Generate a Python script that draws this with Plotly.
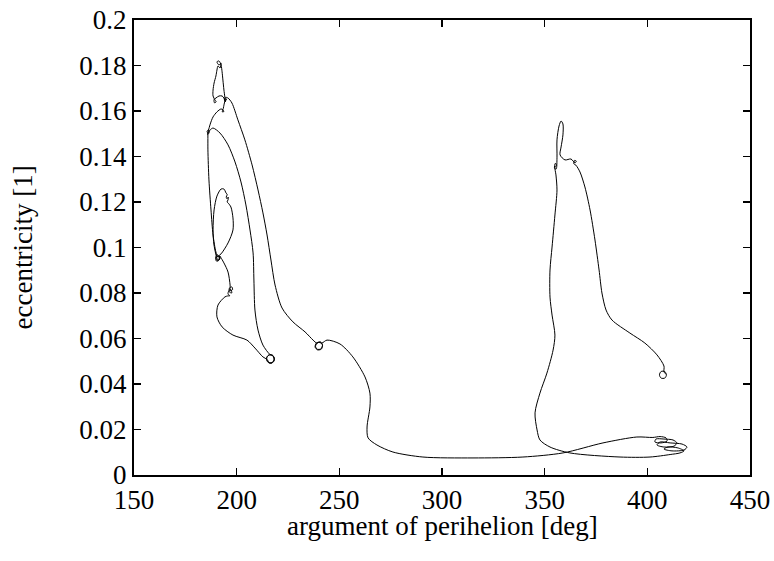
import plotly.graph_objects as go

# argument of perihelion [deg]
omega = [
    186.0, 186.0, 186.5, 187.5, 188.5, 189.9, 190.9,
    191.8, 191.5, 190.2, 189.7, 190.6, 191.6, 190.8,
    188.96, 188.5, 189.0, 190.4, 192.4, 193.8, 194.8,
    195.4, 194.9, 195.3, 195.9, 195.8, 195.3, 195.9,
    197.2, 198.2, 198.2, 195.8, 192.4,
    191.0, 190.0, 190.6, 191.8, 191.7,
    193.8, 195.8, 196.8, 196.9,
    198.0, 197.6, 196.5, 196.4, 197.6, 197.2, 196.2, 195.8, 196.7, 195.6,
    194.3, 190.9, 190.4, 192.9, 198.2, 205.0, 208.9, 212.8, 214.8,
    216.0, 217.8, 218.4, 217.4, 215.5, 214.5, 215.3, 217.2, 218.2, 217.8, 216.0, 214.7, 215.0, 216.8, 218.3, 217.6, 216.2,
    212.8, 210.4, 208.9, 208.4, 208.0, 206.5, 204.5, 202.1, 199.2, 195.8, 191.9, 188.5, 187.0, 186.0,
    185.6, 186.3, 186.6, 185.9,
    187.0, 188.5, 190.4, 192.4, 193.3,
    193.8, 193.0, 193.5,
    193.8, 194.3,
    194.8, 194.0, 194.5,
    193.8, 193.3, 192.9, 192.4, 191.4, 190.4, 191.4, 192.4, 191.9, 190.9, 190.4, 189.9, 189.0, 188.5, 188.5, 189.4,
    190.0, 189.2, 189.0,
    189.9, 191.4, 192.9, 193.8, 194.3,
    195.0, 194.6,
    195.8, 197.7, 200.6, 204.0, 207.5, 210.4, 212.8, 214.8, 216.7, 218.7, 222.1, 227.4, 233.3, 237.2,
    239.0, 240.8, 241.8, 241.2, 239.4, 238.2, 238.8, 240.6, 241.8, 241.0, 239.2, 238.4, 239.6, 241.5,
    244.0, 250.3, 256.6, 262.5, 264.9, 264.9, 263.5, 264.0, 268.3, 276.1, 290.7, 315.1, 339.4, 358.9, 378.4, 394.9, 402.7,
    406.2, 409.1, 409.6, 406.6, 403.7, 404.2, 408.1, 412.5, 414.4, 413.0, 408.1, 404.7, 406.2, 411.1, 416.9, 419.3,
    417.9, 412.0, 408.1, 410.1, 414.9, 417.9, 415.9, 411.1, 401.3, 386.7, 362.3, 352.6, 347.7,
    346.3, 345.3, 347.7, 351.1, 354.1, 355.0, 353.6, 352.6, 352.6, 353.6, 355.0, 356.0, 355.5, 355.0,
    355.8, 355.2, 354.8, 355.6,
    356.0, 356.0, 357.0, 358.0, 358.9, 358.9, 358.0, 357.5, 359.9, 362.8, 364.8,
    365.4, 364.6, 364.2, 365.2,
    367.2, 369.6, 372.1, 374.5, 376.5, 377.9, 379.9, 382.8, 391.5, 398.8, 404.7, 408.1, 408.1,
    409.3, 408.5, 406.7, 405.9, 406.7, 408.5, 409.3,
]

# eccentricity [1]
ecc = [
    0.1503, 0.1429, 0.1297, 0.1165, 0.1055, 0.0980, 0.0958,
    0.0962, 0.0945, 0.0940, 0.0955, 0.0968, 0.0955, 0.0945,
    0.1011, 0.1077, 0.1165, 0.1226, 0.1257, 0.1257, 0.1240,
    0.1232, 0.1222, 0.1214, 0.1222, 0.1209, 0.1200, 0.1195,
    0.1178, 0.1130, 0.1077, 0.1020, 0.0972,
    0.0962, 0.0955, 0.0942, 0.0950, 0.0963,
    0.0932, 0.0892, 0.0835, 0.0810,
    0.0815, 0.0827, 0.0822, 0.0805, 0.0800, 0.0815, 0.0810, 0.0795, 0.0788, 0.0787,
    0.0783, 0.0747, 0.0695, 0.0651, 0.0615, 0.0593, 0.0558, 0.0519, 0.0508,
    0.0492, 0.0496, 0.0512, 0.0527, 0.0527, 0.0512, 0.0495, 0.0493, 0.0505, 0.0522, 0.0528, 0.0517, 0.0500, 0.0492, 0.0508, 0.0525, 0.0530,
    0.0571, 0.0637, 0.0725, 0.0857, 0.0976, 0.1077, 0.1187, 0.1288, 0.1376, 0.1451, 0.1503, 0.1525, 0.1516, 0.1503,
    0.1510, 0.1518, 0.1505, 0.1497,
    0.1539, 0.1574, 0.1596, 0.1609, 0.1605,
    0.1598, 0.1596, 0.1612,
    0.1626, 0.1644,
    0.1650, 0.1655, 0.1640,
    0.1692, 0.1736, 0.1772, 0.1802, 0.1820, 0.1816, 0.1802, 0.1811, 0.1789, 0.1798, 0.1780, 0.1754, 0.1723, 0.1692, 0.1666, 0.1649,
    0.1640, 0.1636, 0.1650,
    0.1657, 0.1666, 0.1666, 0.1657, 0.1644,
    0.1648, 0.1660,
    0.1657, 0.1635, 0.1561, 0.1473, 0.1363, 0.1253, 0.1152, 0.1055, 0.0945, 0.0835, 0.0734, 0.0673, 0.0629, 0.0593,
    0.0580, 0.0585, 0.0570, 0.0553, 0.0550, 0.0562, 0.0580, 0.0584, 0.0572, 0.0554, 0.0553, 0.0566, 0.0583, 0.0580,
    0.0593, 0.0576, 0.0519, 0.0431, 0.0360, 0.0299, 0.0211, 0.0163, 0.0132, 0.0101, 0.0079, 0.0075, 0.0079, 0.0097, 0.0141, 0.0167, 0.0165,
    0.0169, 0.0163, 0.0149, 0.0141, 0.0145, 0.0158, 0.0158, 0.0154, 0.0141, 0.0127, 0.0123, 0.0132, 0.0145, 0.0141, 0.0136, 0.0123,
    0.0110, 0.0106, 0.0114, 0.0123, 0.0119, 0.0106, 0.0097, 0.0090, 0.0079, 0.0079, 0.0097, 0.0123, 0.0154,
    0.0198, 0.0273, 0.0360, 0.0448, 0.0549, 0.0615, 0.0703, 0.0782, 0.0901, 0.1002, 0.1143, 0.1253, 0.1319, 0.1354,
    0.1362, 0.1370, 0.1348, 0.1345,
    0.1394, 0.1473, 0.1534, 0.1556, 0.1543, 0.1495, 0.1442, 0.1407, 0.1385, 0.1389, 0.1372,
    0.1380, 0.1383, 0.1368, 0.1362,
    0.1332, 0.1266, 0.1165, 0.1033, 0.0901, 0.0800, 0.0725, 0.0681, 0.0624, 0.0580, 0.0528, 0.0479, 0.0453,
    0.0440, 0.0426, 0.0426, 0.0440, 0.0455, 0.0455, 0.0442,
]

x_ticks = [150, 200, 250, 300, 350, 400, 450]
y_ticks = [0, 0.02, 0.04, 0.06, 0.08, 0.1, 0.12, 0.14, 0.16, 0.18, 0.2]
y_tick_text = ["0", "0.02", "0.04", "0.06", "0.08", "0.1", "0.12", "0.14", "0.16", "0.18", "0.2"]
x_title = "argument of perihelion [deg]"
y_title = "eccentricity [1]"

FONT = "Liberation Serif"
FS = 27

fig = go.Figure()
fig.add_trace(go.Scatter(
    x=omega, y=ecc, mode="lines",
    line=dict(color="black", width=1, shape="spline", smoothing=0.8),
    showlegend=False, hoverinfo="skip",
))

axis_common = dict(
    showline=True, linecolor="black", linewidth=2, mirror="allticks",
    ticks="inside", ticklen=7, tickwidth=1.5, tickcolor="black",
    showgrid=False, zeroline=False,
    tickfont=dict(family=FONT, size=FS, color="black"),
)

fig.update_layout(
    width=774, height=561,
    margin=dict(l=134, r=24, t=20, b=86, autoexpand=False),
    paper_bgcolor="white", plot_bgcolor="white",
    font=dict(family=FONT, size=FS, color="black"),
    xaxis=dict(range=[150, 450], tickvals=x_ticks, **axis_common),
    yaxis=dict(range=[0, 0.2], tickvals=y_ticks, ticktext=y_tick_text, **axis_common),
    annotations=[
        dict(text=x_title, xref="paper", yref="paper", x=0.5, y=0,
             xanchor="center", yanchor="middle", yshift=-51, showarrow=False,
             font=dict(family=FONT, size=FS, color="black")),
        dict(text=y_title, xref="paper", yref="paper", x=0, y=0.5,
             xanchor="center", yanchor="middle", xshift=-112, textangle=-90, showarrow=False,
             font=dict(family=FONT, size=FS, color="black")),
    ],
)

fig.write_html(
    "out.html",
    config={"displayModeBar": False, "staticPlot": True},
    post_script="document.body.style.margin='0';document.body.style.overflow='hidden';",
)
